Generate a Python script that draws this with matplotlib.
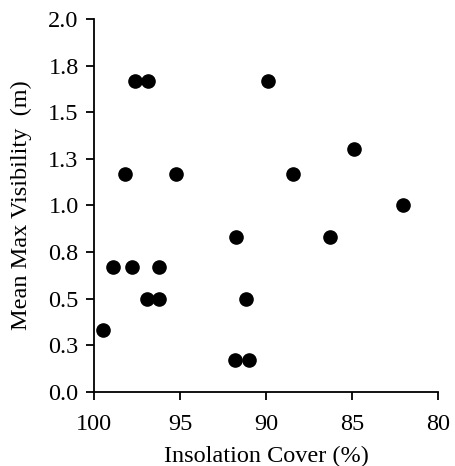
import matplotlib
matplotlib.use("Agg")
import matplotlib.pyplot as plt

insolation_cover = [99.46, 98.88, 97.81, 96.22, 96.94, 96.20, 98.20, 95.25,
                    97.62, 96.84, 89.90, 88.45, 84.87, 82.03, 91.76, 86.30,
                    91.16, 91.80, 90.99]
mean_max_visibility = [0.33, 0.67, 0.67, 0.67, 0.50, 0.50, 1.17, 1.17,
                       1.67, 1.67, 1.67, 1.17, 1.30, 1.00, 0.83, 0.83,
                       0.50, 0.17, 0.17]
x_ticks = [100, 95, 90, 85, 80]
y_ticks = [0.0, 0.25, 0.5, 0.75, 1.0, 1.25, 1.5, 1.75, 2.0]
y_tick_labels = ["0.0", "0.3", "0.5", "0.8", "1.0", "1.3", "1.5", "1.8", "2.0"]

plt.rcParams['font.family'] = ['Liberation Serif', 'DejaVu Serif']

fig = plt.figure(figsize=(4.55, 4.66), dpi=100)
ax = fig.add_axes([0.2066, 0.1594, 0.756, 0.7998])
ax.plot(insolation_cover, mean_max_visibility, 'o', color='black',
        markersize=9.5, linestyle='none', clip_on=False)
ax.set_xlim(100, 80)
ax.set_ylim(0, 2.0)
ax.set_xticks(x_ticks)
ax.set_xticklabels([str(t) for t in x_ticks])
ax.set_yticks(y_ticks)
ax.set_yticklabels(y_tick_labels)
for s in ['top', 'right']:
    ax.spines[s].set_visible(False)
for s in ['left', 'bottom']:
    ax.spines[s].set_linewidth(1.3)
ax.tick_params(axis='both', direction='out', length=6, width=1.3,
               labelsize=17.5)
ax.tick_params(axis='x', pad=10)
ax.tick_params(axis='y', pad=5)
ax.set_xlabel("Insolation Cover (%)", fontsize=17.5, labelpad=8)
ax.set_ylabel("Mean Max Visibility  (m)", fontsize=17.5, labelpad=12)
fig.savefig("out.png", dpi=100)
